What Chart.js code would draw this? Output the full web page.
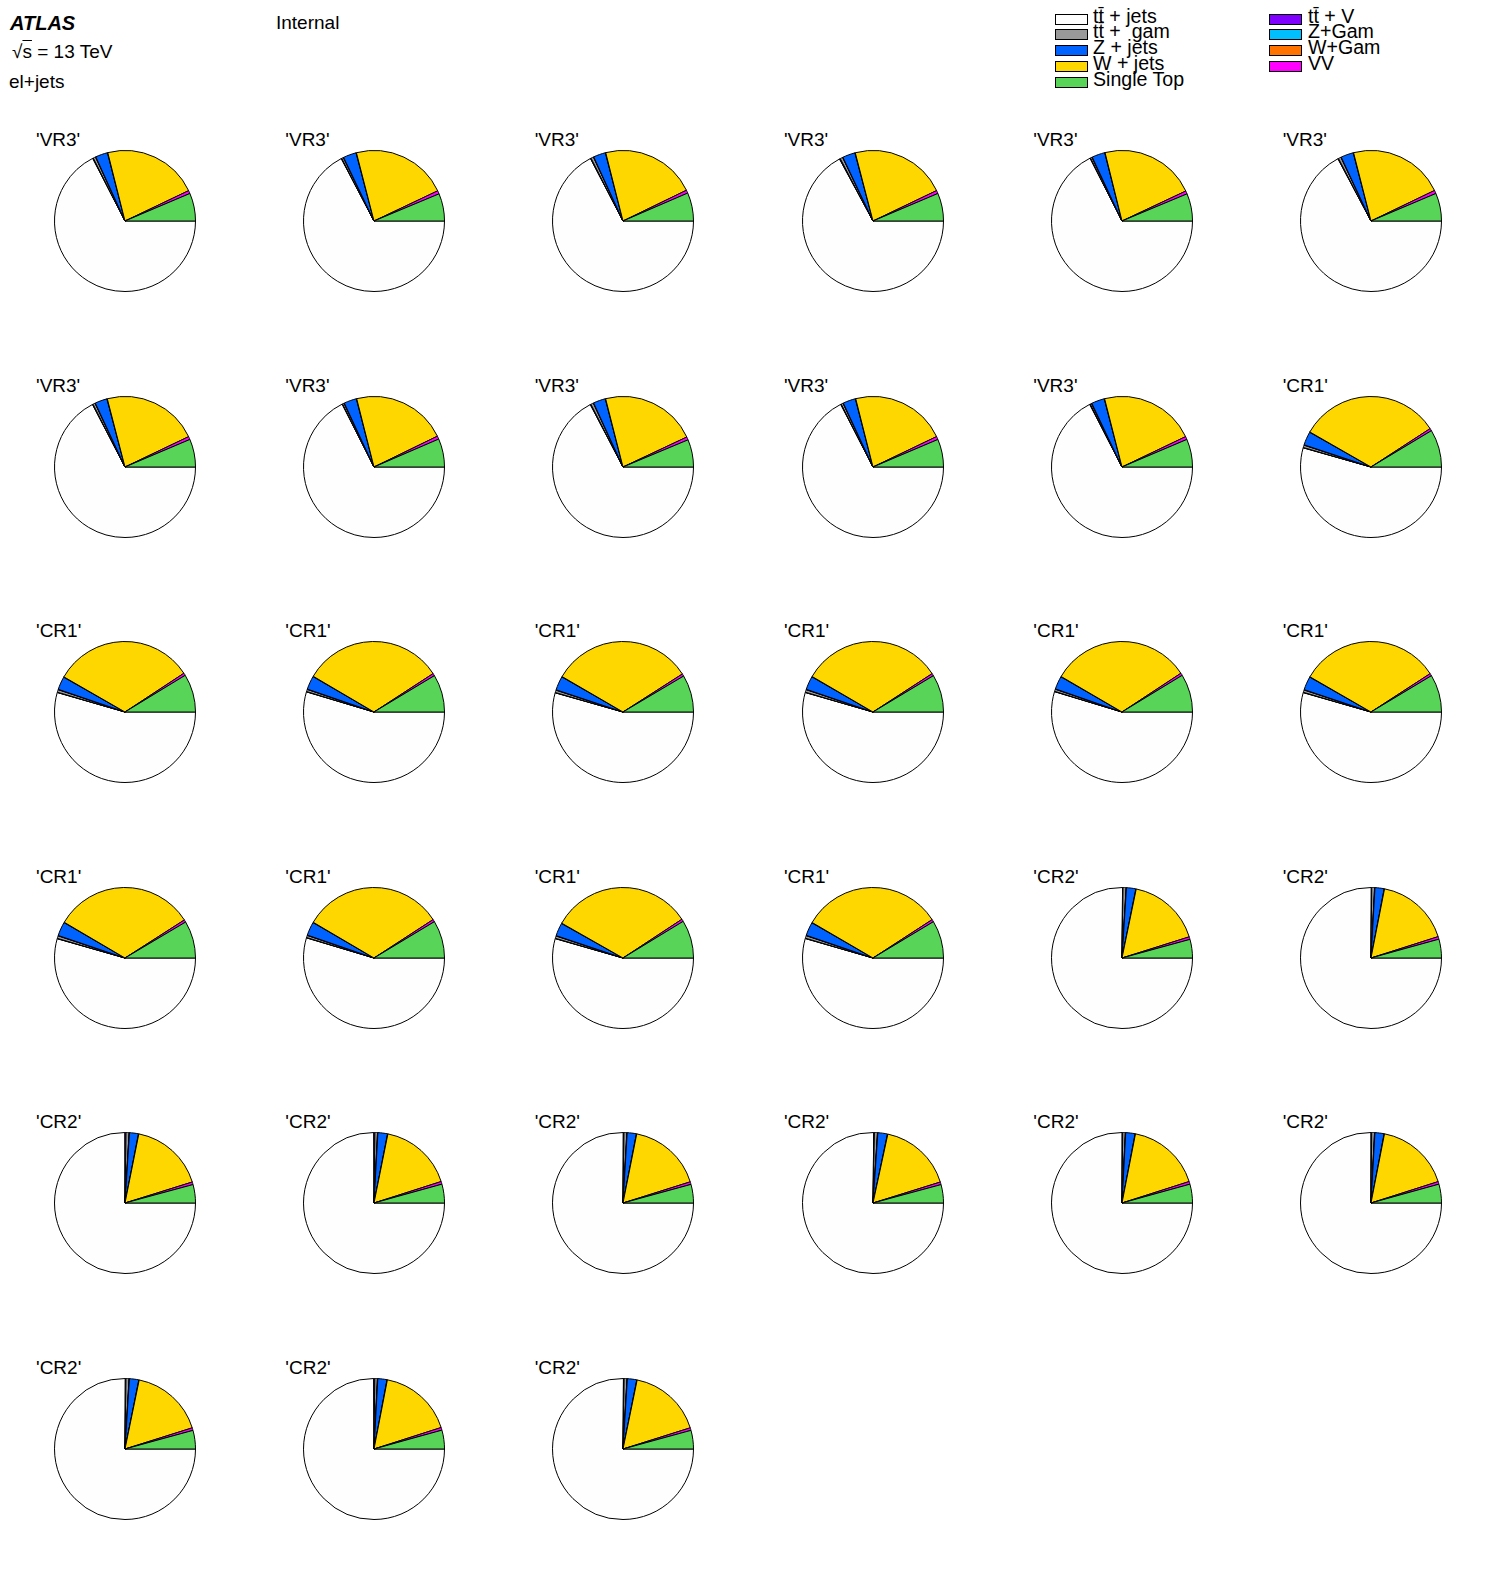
<!DOCTYPE html>
<html>
<head>
<meta charset="utf-8">
<script src="https://cdn.jsdelivr.net/npm/chart.js@4.4.1/dist/chart.umd.min.js"></script>
<style>
  html, body { margin: 0; padding: 0; background: #ffffff; }
  body { width: 1496px; height: 1572px; position: relative; overflow: hidden;
         font-family: "Liberation Sans", Arial, Helvetica, sans-serif; color: #000; }
  .txt { position: absolute; white-space: pre; line-height: 1; }
  .pie { position: absolute; }
  .lbox { position: absolute; width: 33px; height: 11px; border: 1px solid #000; box-sizing: border-box; }
</style>
</head>
<body>
<script>
// ---------------- DATA ----------------
const regions = [
  "'VR3'","'VR3'","'VR3'","'VR3'","'VR3'","'VR3'",
  "'VR3'","'VR3'","'VR3'","'VR3'","'VR3'","'CR1'",
  "'CR1'","'CR1'","'CR1'","'CR1'","'CR1'","'CR1'",
  "'CR1'","'CR1'","'CR1'","'CR1'","'CR2'","'CR2'",
  "'CR2'","'CR2'","'CR2'","'CR2'","'CR2'","'CR2'",
  "'CR2'","'CR2'","'CR2'"
];
const sampleNames = ["tt\u0304 + jets", "tt\u0304 + V", "tt\u0304 +  gam", "Z+Gam", "Z + jets", "W+Gam", "W + jets", "VV", "Single Top"];
const sampleColors = ["#fefefe", "#7f00ff", "#999999", "#00bfff", "#0062ff", "#ff7400", "#ffd700", "#ff00ff", "#58d558"];
// fractions (%) per region, same order as regions
const ttjets = [67.6,67.4,67.5,67.3,67.6,67.4,67.5,67.7,67.4,67.6,67.5,
                54.3,54.4,54.5,54.3,54.4,54.6,54.4,54.3,54.5,54.4,54.4,
                75.1,75.0,74.8,74.9,75.0,75.1,75.0,74.9,75.0,74.8,75.0];
const ttV    = [0.15,0.12,0.15,0.18,0.12,0.15,0.14,0.12,0.16,0.13,0.15,
                0.08,0.08,0.08,0.08,0.08,0.08,0.08,0.08,0.08,0.08,0.08,
                0.10,0.10,0.25,0.25,0.15,0.15,0.12,0.15,0.15,0.25,0.15];
const ttgam  = [0.55,0.40,0.60,0.60,0.35,0.60,0.50,0.35,0.60,0.45,0.30,
                0.55,0.60,0.50,0.55,0.60,0.50,0.55,0.60,0.50,0.55,0.60,
                0.70,0.65,0.70,0.60,0.65,0.70,0.60,0.65,0.70,0.60,0.65];
const zgam   = [0.08,0.08,0.08,0.08,0.08,0.08,0.08,0.08,0.08,0.08,0.08,
                0.08,0.08,0.08,0.08,0.08,0.08,0.08,0.08,0.08,0.08,0.08,
                0.08,0.08,0.08,0.08,0.08,0.08,0.08,0.08,0.08,0.08,0.08];
const zjets  = [2.8,3.0,2.8,2.9,3.0,2.9,2.8,2.9,2.8,2.9,3.0,
                3.1,3.0,3.1,3.2,3.1,3.0,3.1,3.2,3.1,3.0,3.1,
                2.15,2.1,2.05,2.2,2.1,2.2,2.15,2.1,2.15,2.1,2.15];
const wgam   = [0.08,0.08,0.08,0.08,0.08,0.08,0.08,0.08,0.08,0.08,0.08,
                0.08,0.08,0.08,0.08,0.08,0.08,0.08,0.08,0.08,0.08,0.08,
                0.08,0.08,0.08,0.08,0.08,0.08,0.08,0.08,0.08,0.08,0.08];
const wjets  = [21.9,22.0,21.8,22.0,21.9,21.9,22.0,21.8,22.0,21.9,21.9,
                32.5,32.4,32.3,32.5,32.4,32.3,32.5,32.4,32.3,32.5,32.4,
                16.9,17.0,17.0,16.9,17.0,16.8,17.0,17.0,16.9,17.0,16.9];
const vv     = [0.70,0.75,0.70,0.72,0.70,0.75,0.70,0.72,0.70,0.72,0.70,
                0.55,0.55,0.55,0.55,0.55,0.55,0.55,0.55,0.55,0.55,0.55,
                0.60,0.60,0.60,0.62,0.60,0.60,0.62,0.60,0.60,0.62,0.60];
const singletop = [6.4,6.3,6.5,6.4,6.3,6.4,6.4,6.5,6.3,6.4,6.4,
                   8.6,8.7,8.6,8.5,8.6,8.7,8.6,8.5,8.6,8.7,8.6,
                   4.25,4.3,4.2,4.3,4.25,4.2,4.3,4.3,4.25,4.3,4.25];
const seriesByRegion = [ttjets, ttV, ttgam, zgam, zjets, wgam, wjets, vv, singletop];

// header / legend text
const atlasLabel = "ATLAS";
const statusLabel = "Internal";
const channelLabel = "el+jets";
const legendLeft = [0, 2, 4, 6, 8];   // indices into sampleNames (row-major, 2 columns)
const legendRight = [1, 3, 5, 7];

// ---------------- LAYOUT ----------------
const NCOL = 6;
const X0 = 124.7, DX = 249.33;
const Y0 = 221, DY = 245.5;
const R = 71;

function addText(str, x, y, size, extra) {
  const d = document.createElement('div');
  d.className = 'txt';
  d.style.left = x + 'px';
  d.style.top = y + 'px';
  d.style.fontSize = size + 'px';
  if (extra) Object.assign(d.style, extra);
  d.innerHTML = str;
  document.body.appendChild(d);
  return d;
}

// header
addText(atlasLabel, 10, 12.5, 20, {fontWeight: 'bold', fontStyle: 'italic'});
addText(statusLabel, 276, 13, 19);
addText('\u221A<span style="text-decoration:overline">s</span> = 13 TeV', 12, 42, 19);
addText(channelLabel, 9, 72, 19);

// legend
function legendCol(idxs, bx, tx) {
  idxs.forEach((k, i) => {
    const cy = 19 + i * 15.8;
    const b = document.createElement('div');
    b.className = 'lbox';
    b.style.left = bx + 'px';
    b.style.top = (cy - 5.5) + 'px';
    b.style.background = sampleColors[k];
    document.body.appendChild(b);
    addText(sampleNames[k], tx, cy - 12.5, 19.6);
  });
}
legendCol(legendLeft, 1055, 1093);
legendCol(legendRight, 1269, 1308);

// pies
regions.forEach((name, i) => {
  const col = i % NCOL, row = Math.floor(i / NCOL);
  const cx = X0 + col * DX, cy = Y0 + row * DY;
  addText(name, 36 + col * DX, cy - 91, 19);
  const cv = document.createElement('canvas');
  cv.className = 'pie';
  cv.width = 2 * R; cv.height = 2 * R;
  cv.style.left = (cx - R) + 'px';
  cv.style.top = (cy - R) + 'px';
  cv.style.width = (2 * R) + 'px';
  cv.style.height = (2 * R) + 'px';
  document.body.appendChild(cv);
  new Chart(cv, {
    type: 'pie',
    data: {
      labels: sampleNames,
      datasets: [{
        data: seriesByRegion.map(s => s[i]),
        backgroundColor: sampleColors,
        borderColor: '#000000',
        borderWidth: 1
      }]
    },
    options: {
      responsive: false,
      animation: false,
      events: [],
      rotation: 90,
      layout: { padding: 0 },
      plugins: { legend: { display: false }, tooltip: { enabled: false }, title: { display: false } }
    }
  });
});
</script>
</body>
</html>
